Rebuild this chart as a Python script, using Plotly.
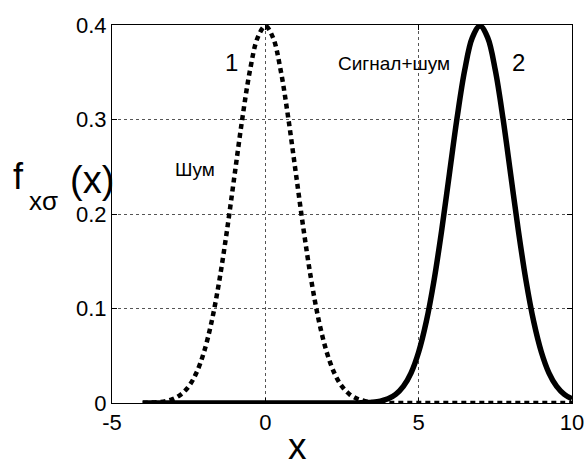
import plotly.graph_objects as go

# x grid (step 0.25 from -4 to 10)
x_vals = [-4 + 0.25 * i for i in range(57)]

# Curve 1: noise ("Шум")
noise = [0.0001, 0.0004, 0.0009, 0.0020, 0.0044, 0.0091, 0.0175, 0.0317, 0.0540,
         0.0863, 0.1295, 0.1827, 0.2420, 0.3011, 0.3521, 0.3867, 0.3989,
         0.3867, 0.3521, 0.3011, 0.2420, 0.1827, 0.1295, 0.0863, 0.0540,
         0.0317, 0.0175, 0.0091, 0.0044, 0.0020, 0.0009, 0.0004, 0.0001,
         0, 0, 0, 0, 0, 0, 0, 0, 0, 0, 0, 0,
         0, 0, 0, 0, 0, 0, 0, 0, 0, 0, 0, 0]

# Curve 2: signal + noise ("Сигнал+шум")
signal = [0, 0, 0, 0, 0, 0, 0, 0, 0, 0, 0, 0, 0, 0,
          0, 0, 0, 0, 0, 0, 0, 0, 0, 0, 0, 0, 0, 0,
          0.0001, 0.0004, 0.0009, 0.0020, 0.0044, 0.0091, 0.0175, 0.0317, 0.0540,
          0.0863, 0.1295, 0.1827, 0.2420, 0.3011, 0.3521, 0.3867, 0.3989,
          0.3867, 0.3521, 0.3011, 0.2420, 0.1827, 0.1295, 0.0863, 0.0540,
          0.0317, 0.0175, 0.0091, 0.0044]

x_ticks = [-5, 0, 5, 10]
x_tick_labels = ["-5", "0", "5", "10"]
y_ticks = [0, 0.1, 0.2, 0.3, 0.4]
y_tick_labels = ["0", "0.1", "0.2", "0.3", "0.4"]

FONT = "Liberation Sans, Arial, sans-serif"

fig = go.Figure()
fig.add_trace(go.Scatter(x=x_vals, y=signal, mode="lines", line=dict(color="black", width=5.5, shape="spline"),
                         cliponaxis=False, showlegend=False))
fig.add_trace(go.Scatter(x=x_vals, y=noise, mode="lines",
                         line=dict(color="black", width=4.5, dash="5px,4px", shape="spline"),
                         cliponaxis=False, showlegend=False))

annots = [
    dict(text="1", x=-1.09, y=0.36, xref="x", yref="y", font=dict(size=24)),
    dict(text="Шум", x=-2.29, y=0.2466, xref="x", yref="y", font=dict(size=19)),
    dict(text="Сигнал+шум", x=4.19, y=0.359, xref="x", yref="y", font=dict(size=19)),
    dict(text="2", x=8.24, y=0.36, xref="x", yref="y", font=dict(size=24)),
    dict(text="f", x=-0.2022, y=0.6005, xref="paper", yref="paper", font=dict(size=36)),
    dict(text="xσ", x=-0.148, y=0.535, xref="paper", yref="paper", font=dict(size=26)),
    dict(text="(x)", x=-0.0435, y=0.59, xref="paper", yref="paper", font=dict(size=38)),
]
for a in annots:
    a.update(showarrow=False, xanchor="center", yanchor="middle")
    a["font"].update(family=FONT, color="black")
annots.append(dict(text="x", x=0.404, y=-0.1735, xref="paper", yref="paper",
                   showarrow=False, xanchor="center", yanchor="bottom",
                   font=dict(size=37, family=FONT, color="black")))

axis_common = dict(showgrid=True, gridcolor="#555", griddash="dot", gridwidth=1,
                   showline=True, linecolor="black", linewidth=1, mirror="ticks",
                   ticks="inside", ticklen=5, tickcolor="black", zeroline=False,
                   tickfont=dict(size=22), automargin=False)

fig.update_layout(
    width=587, height=470,
    margin=dict(l=112, r=15, t=25, b=67, autoexpand=False),
    paper_bgcolor="white", plot_bgcolor="white",
    font=dict(family=FONT, color="black", size=22),
    annotations=annots,
    xaxis=dict(range=[-5, 10], tickvals=x_ticks, ticktext=x_tick_labels, **axis_common),
    yaxis=dict(range=[0, 0.4], tickvals=y_ticks, ticktext=y_tick_labels, **axis_common),
)

fig.write_html("out.html")
